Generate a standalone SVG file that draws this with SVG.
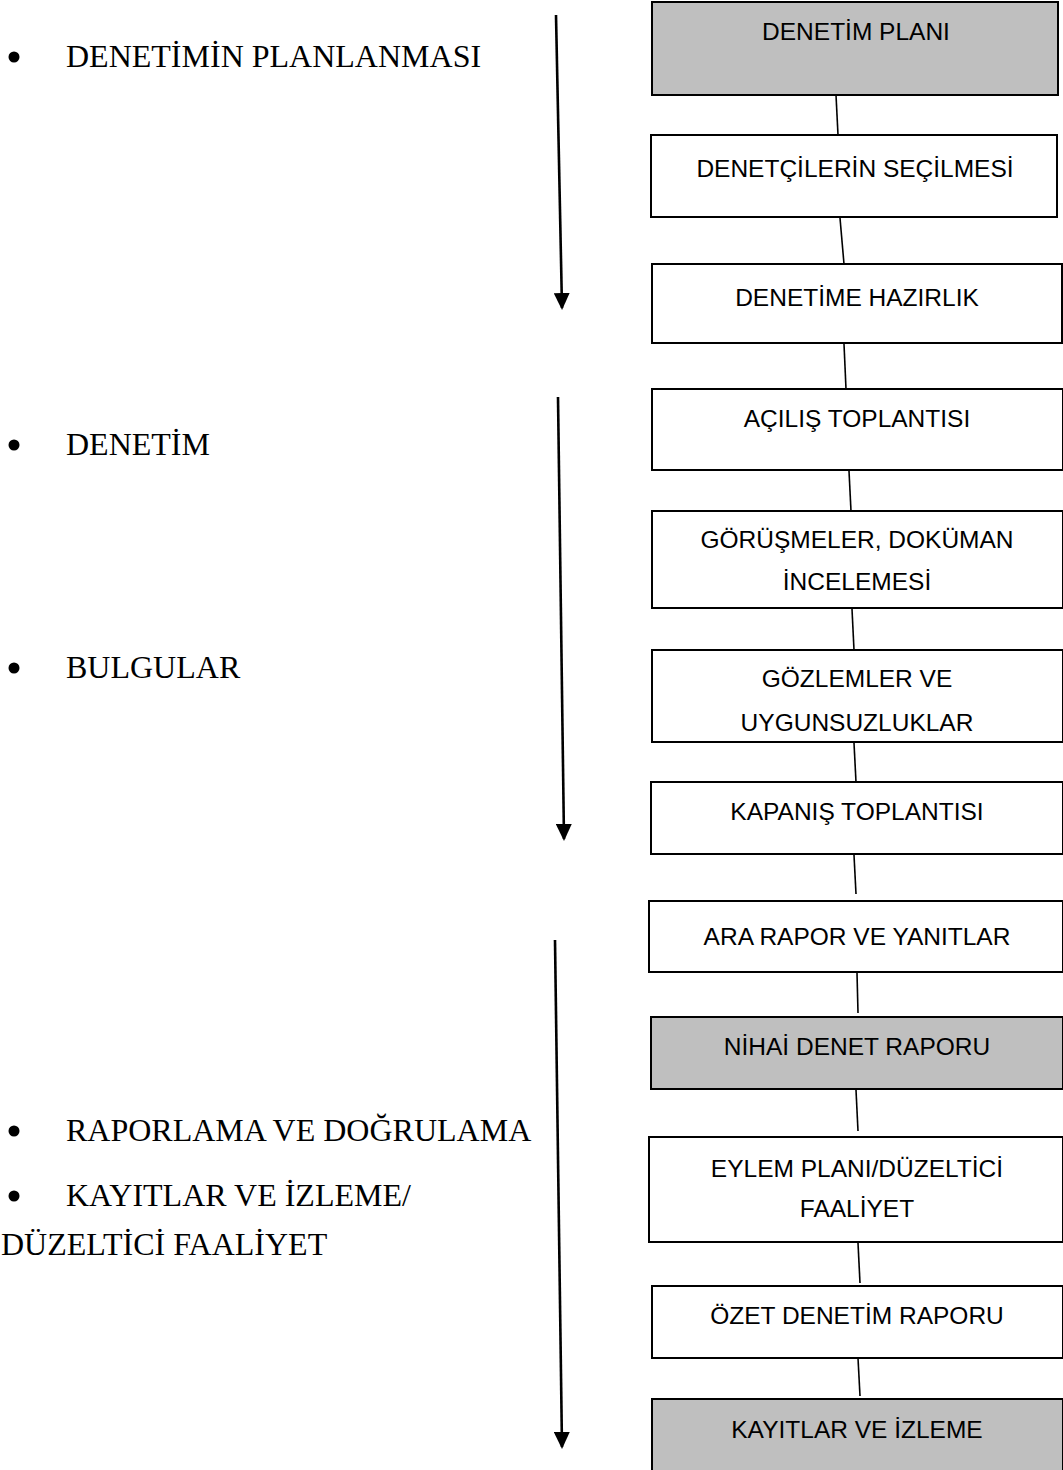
<svg xmlns="http://www.w3.org/2000/svg" width="1063" height="1470" viewBox="0 0 1063 1470">
<defs>
<style>
.box{fill:#ffffff;stroke:#000000;stroke-width:2}
.gray{fill:#bfbfbf}
.bt{font-family:"Liberation Sans",Arial,sans-serif;font-size:24.5px;fill:#000;text-anchor:middle}
.lt{font-family:"Liberation Serif","Times New Roman",serif;font-size:32px;fill:#000}
.con{stroke:#000;stroke-width:1.6;fill:none}
.arr{stroke:#000;stroke-width:2.6;fill:none;marker-end:url(#ah)}
</style>
<marker id="ah" markerUnits="userSpaceOnUse" markerWidth="17" markerHeight="16" refX="15" refY="8" orient="auto" viewBox="0 0 17 16">
<path d="M0,0 L17,8 L0,16 Z" fill="#000"/>
</marker>
</defs>
<rect width="1063" height="1470" fill="#ffffff"/>

<g id="left-labels">
<g id="lbl-planlama"><circle cx="14" cy="57" r="5.5"/><text class="lt" x="66" y="67">DENETİMİN PLANLANMASI</text></g>
<g id="lbl-denetim"><circle cx="14" cy="445" r="5.5"/><text class="lt" x="66" y="455">DENETİM</text></g>
<g id="lbl-bulgular"><circle cx="14" cy="668" r="5.5"/><text class="lt" x="66" y="678">BULGULAR</text></g>
<g id="lbl-raporlama"><circle cx="14" cy="1131" r="5.5"/><text class="lt" x="66" y="1141">RAPORLAMA VE DOĞRULAMA</text></g>
<g id="lbl-kayitlar"><circle cx="14" cy="1196" r="5.5"/><text class="lt" x="66" y="1206">KAYITLAR VE İZLEME/</text><text class="lt" x="1" y="1255">DÜZELTİCİ FAALİYET</text></g>
</g>

<g id="connectors">
<line class="con" x1="836" y1="95" x2="838" y2="135"/>
<line class="con" x1="840" y1="218" x2="844" y2="264"/>
<line class="con" x1="844" y1="344" x2="846" y2="389"/>
<line class="con" x1="849" y1="471" x2="851" y2="511"/>
<line class="con" x1="852" y1="609" x2="854" y2="650"/>
<line class="con" x1="854" y1="743" x2="856" y2="782"/>
<line class="con" x1="854" y1="855" x2="856" y2="894"/>
<line class="con" x1="857" y1="973" x2="858" y2="1013"/>
<line class="con" x1="856" y1="1090" x2="858" y2="1131"/>
<line class="con" x1="858" y1="1243" x2="860" y2="1283"/>
<line class="con" x1="858" y1="1358" x2="860" y2="1396"/>
<path class="arr" d="M556,15 L562,308"/>
<path class="arr" d="M558,397 L564,839"/>
<path class="arr" d="M555,940 L562,1447"/>
</g>

<g id="n1"><rect class="box gray" x="652" y="2" width="406" height="93"/><text class="bt" x="856" y="40">DENETİM PLANI</text></g>
<g id="n2"><rect class="box" x="651" y="135" width="406" height="82"/><text class="bt" x="855" y="177">DENETÇİLERİN SEÇİLMESİ</text></g>
<g id="n3"><rect class="box" x="652" y="264" width="410" height="79"/><text class="bt" x="857" y="306">DENETİME HAZIRLIK</text></g>
<g id="n4"><rect class="box" x="652" y="389" width="411" height="81"/><text class="bt" x="857" y="427">AÇILIŞ TOPLANTISI</text></g>
<g id="n5"><rect class="box" x="652" y="511" width="411" height="97"/><text class="bt" x="857" y="548">GÖRÜŞMELER, DOKÜMAN</text><text class="bt" x="857" y="590">İNCELEMESİ</text></g>
<g id="n6"><rect class="box" x="652" y="650" width="411" height="92"/><text class="bt" x="857" y="687">GÖZLEMLER VE</text><text class="bt" x="857" y="731">UYGUNSUZLUKLAR</text></g>
<g id="n7"><rect class="box" x="651" y="782" width="412" height="72"/><text class="bt" x="857" y="820">KAPANIŞ TOPLANTISI</text></g>
<g id="n8"><rect class="box" x="649" y="901" width="414" height="71"/><text class="bt" x="857" y="945">ARA RAPOR VE YANITLAR</text></g>
<g id="n9"><rect class="box gray" x="651" y="1017" width="412" height="72"/><text class="bt" x="857" y="1055">NİHAİ DENET RAPORU</text></g>
<g id="n10"><rect class="box" x="649" y="1137" width="414" height="105"/><text class="bt" x="857" y="1177">EYLEM PLANI/DÜZELTİCİ</text><text class="bt" x="857" y="1217">FAALİYET</text></g>
<g id="n11"><rect class="box" x="652" y="1286" width="411" height="72"/><text class="bt" x="857" y="1324">ÖZET DENETİM RAPORU</text></g>
<g id="n12"><rect class="box gray" x="652" y="1399" width="411" height="72"/><text class="bt" x="857" y="1438">KAYITLAR VE İZLEME</text></g>
</svg>
